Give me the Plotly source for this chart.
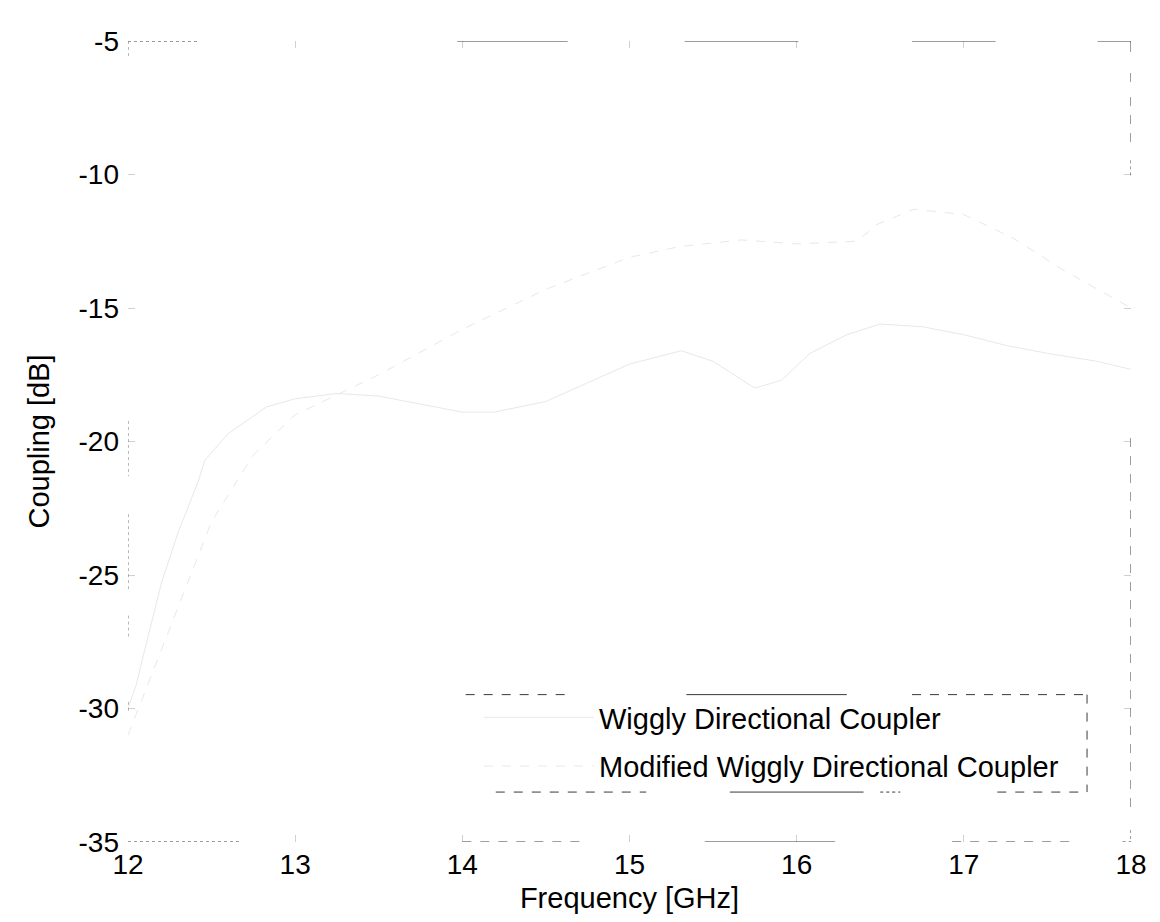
import plotly.graph_objects as go

# ---- data (estimated) ----
freq_wiggly = [12.0, 12.05, 12.1, 12.2, 12.3, 12.42, 12.46, 12.6, 12.83, 13.0, 13.25, 13.5,
               13.75, 14.0, 14.19, 14.5, 14.75, 15.0, 15.31, 15.5, 15.75, 15.91, 16.08, 16.3,
               16.5, 16.75, 17.0, 17.25, 17.5, 17.8, 18.0]
coup_wiggly = [-30.0, -29.1, -27.8, -25.3, -23.4, -21.5, -20.7, -19.7, -18.7, -18.4, -18.2, -18.3,
               -18.6, -18.9, -18.9, -18.5, -17.8, -17.1, -16.6, -17.0, -18.0, -17.7, -16.7, -16.0,
               -15.6, -15.7, -16.0, -16.4, -16.7, -17.0, -17.3]

freq_modified = [12.0, 12.25, 12.5, 12.75, 13.0, 13.5, 14.0, 14.5, 15.0, 15.3, 15.67, 16.0,
                 16.35, 16.42, 16.47, 16.7, 17.0, 17.3, 17.6, 18.0]
coup_modified = [-31.0, -27.0, -23.0, -20.5, -19.0, -17.5, -15.8, -14.3, -13.1, -12.7, -12.45, -12.6,
                 -12.5, -12.2, -11.9, -11.3, -11.5, -12.4, -13.6, -15.0]

series_names = ["Wiggly Directional Coupler", "Modified Wiggly Directional Coupler"]
x_ticks = [12, 13, 14, 15, 16, 17, 18]
y_ticks = [-35, -30, -25, -20, -15, -10, -5]

# ---- decoration: broken (scanned) frame segments ----
FRAME_TOP = [(12.0, 12.43, "dot"), (13.97, 14.63, "solid"), (15.33, 16.01, "solid"),
             (16.69, 17.19, "solid"), (17.80, 18.0, "solid")]
FRAME_BOTTOM = [(12.0, 12.67, "dot"), (14.0, 14.72, "dash"), (15.45, 16.23, "solid"),
                (16.93, 17.65, "dash"), (17.95, 18.0, "dot")]
FRAME_RIGHT = [(-5.0, -5.41, "solid"), (-6.2, -6.84, "dash"), (-7.1, -8.83, "dash"),
               (-9.47, -10.03, "dot"), (-19.87, -33.88, "dash"), (-34.55, -35.0, "dot")]
FRAME_LEFT = [(-5.0, -5.64, "dot"), (-19.23, -21.3, "dot"), (-22.72, -25.62, "dot"),
              (-26.52, -27.31, "dot"), (-29.75, -30.2, "dot")]
LEG_L, LEG_R, LEG_T, LEG_B = 14.02, 17.737, -29.48, -33.13
LEG_TOP = [(14.02, 14.66, "dash"), (15.34, 16.3, "solid"), (16.69, 17.737, "dash")]
LEG_BOTTOM = [(14.2, 15.1, "dash"), (15.6, 16.4, "solid"), (16.5, 16.62, "dot"), (17.2, 17.737, "dash")]

fig = go.Figure()
fig.add_trace(go.Scatter(x=freq_wiggly, y=coup_wiggly, mode="lines", name=series_names[0],
                         legendgroup="a", line=dict(color="#e8e8e8", width=1)))
fig.add_trace(go.Scatter(x=freq_modified, y=coup_modified, mode="lines", name=series_names[1],
                         legendgroup="b", line=dict(color="#e8e8e8", width=1, dash="dash")))

shapes = []
fc = "#3a3a3a"
for a, b, d in FRAME_TOP:
    shapes.append(dict(type="line", xref="x", yref="y", x0=a, x1=b, y0=-5, y1=-5,
                       line=dict(color=fc, width=1, dash=d)))
for a, b, d in FRAME_BOTTOM:
    shapes.append(dict(type="line", xref="x", yref="y", x0=a, x1=b, y0=-35, y1=-35,
                       line=dict(color=fc, width=1, dash=d)))
for a, b, d in FRAME_RIGHT:
    shapes.append(dict(type="line", xref="x", yref="y", x0=18, x1=18, y0=a, y1=b,
                       line=dict(color=fc, width=1, dash=d)))
for a, b, d in FRAME_LEFT:
    shapes.append(dict(type="line", xref="x", yref="y", x0=12, x1=12, y0=a, y1=b,
                       line=dict(color="#777777", width=1, dash=d)))
for a, b, d in LEG_TOP:
    shapes.append(dict(type="line", xref="x", yref="y", x0=a, x1=b, y0=LEG_T, y1=LEG_T,
                       line=dict(color=fc, width=1, dash=d)))
for a, b, d in LEG_BOTTOM:
    shapes.append(dict(type="line", xref="x", yref="y", x0=a, x1=b, y0=LEG_B, y1=LEG_B,
                       line=dict(color=fc, width=1, dash=d)))
shapes.append(dict(type="line", xref="x", yref="y", x0=LEG_R, x1=LEG_R, y0=LEG_T, y1=LEG_B,
                   line=dict(color=fc, width=1, dash="dash")))

font_family = "Liberation Sans, Arial, sans-serif"
fig.update_layout(
    width=1144, height=906,
    margin=dict(l=120, r=21, t=33, b=72, autoexpand=False),
    paper_bgcolor="white", plot_bgcolor="white",
    font=dict(family=font_family, size=28, color="black"),
    showlegend=True,
    legend=dict(x=(479 - 128) / 1003, y=1 - (692 - 41) / 801, xanchor="left", yanchor="top",
                bgcolor="rgba(0,0,0,0)", borderwidth=0, itemwidth=110,
                traceorder="grouped", tracegroupgap=8,
                font=dict(family=font_family, size=29, color="black")),
    shapes=shapes,
    xaxis=dict(range=[12, 18], tickvals=x_ticks, ticktext=[str(v) for v in x_ticks],
               showgrid=False, zeroline=False, showline=False, mirror="ticks",
               ticks="inside", ticklen=7, tickcolor="#d0d0d0", automargin=False,
               ticklabeloverflow="allow",
               tickfont=dict(size=28), ticklabelstandoff=3,
               title=dict(text="Frequency [GHz]", font=dict(size=29), standoff=8)),
    yaxis=dict(range=[-35, -5], tickvals=y_ticks, ticktext=[str(v) for v in y_ticks],
               showgrid=False, zeroline=False, showline=False, mirror="ticks",
               ticks="inside", ticklen=7, tickcolor="#d0d0d0", automargin=False,
               tickfont=dict(size=28), ticklabelstandoff=8,
               title=dict(text="Coupling [dB]", font=dict(size=29), standoff=20)),
)

fig.write_html("out.html")
